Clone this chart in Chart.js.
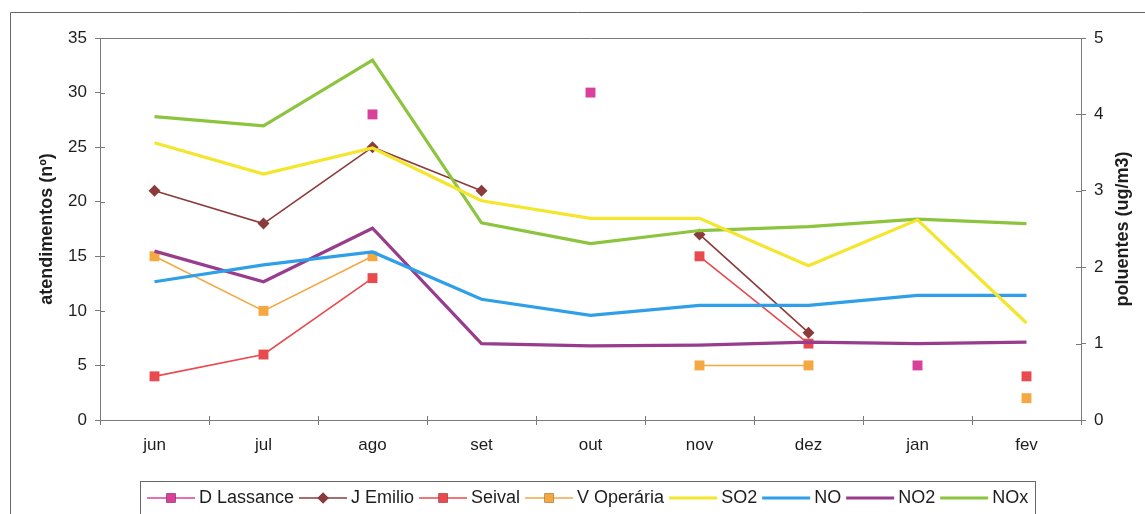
<!DOCTYPE html>
<html>
<head>
<meta charset="utf-8">
<title>atendimentos x poluentes</title>
<script src="https://cdn.jsdelivr.net/npm/chart.js@4.4.1/dist/chart.umd.min.js"></script>
<style>
  html, body { margin: 0; padding: 0; background: #fff; overflow: hidden; }
  #wrap { position: relative; width: 1145px; height: 514px; }
</style>
</head>
<body>
<div id="wrap"><canvas id="chart"></canvas></div>
<script>
// months on the x axis
const months = ['jun', 'jul', 'ago', 'set', 'out', 'nov', 'dez', 'jan', 'fev'];

// atendimentos per station (left axis), null = no record
const dLassance = [null, null, 28, null, 30, null, null, 5, null];
const jEmilio   = [21, 18, 25, 21, null, 17, 8, null, null];
const seival    = [4, 6, 13, null, null, 15, 7, null, 4];
const vOperaria = [15, 10, 15, null, null, 5, 5, null, 2];

// pollutants in ug/m3 (right axis)
const so2 = [3.63, 3.22, 3.56, 2.87, 2.64, 2.64, 2.02, 2.62, 1.27];
const no  = [1.81, 2.03, 2.20, 1.58, 1.37, 1.50, 1.50, 1.63, 1.63];
const no2 = [2.21, 1.81, 2.51, 1.00, 0.97, 0.98, 1.02, 1.00, 1.02];
const nox = [3.97, 3.85, 4.71, 2.58, 2.31, 2.48, 2.53, 2.63, 2.57];

// axis ranges
const leftMax = 35, leftStep = 5;
const rightMax = 5, rightStep = 1;

const FONT = "'Liberation Sans', Arial, Helvetica, sans-serif";
const AXIS = '#7a7a7a';
Chart.defaults.font.family = FONT;
Chart.defaults.color = '#1e1e1e';

function station(label, data, color, shape, radius) {
  return {
    label, data, yAxisID: 'y', order: 1,
    borderColor: color, backgroundColor: color, borderWidth: 1.6,
    pointStyle: shape, pointRadius: radius, pointHoverRadius: radius,
    pointBorderWidth: 0, spanGaps: false, tension: 0
  };
}
function pollutant(label, data, color) {
  return {
    label, data, yAxisID: 'y1', order: 0,
    borderColor: color, backgroundColor: color, borderWidth: 3.2,
    pointRadius: 0, pointHoverRadius: 0, tension: 0
  };
}

const datasets = [
  station('D Lassance', dLassance, '#d8409c', 'rect', 7),
  station('J Emilio', jEmilio, '#8c3b3b', 'rectRot', 6),
  station('Seival', seival, '#e84a4e', 'rect', 7),
  station('V Operária', vOperaria, '#f5a742', 'rect', 7),
  pollutant('SO2', so2, '#f3e62c'),
  pollutant('NO', no, '#2f9fe9'),
  pollutant('NO2', no2, '#983c8e'),
  pollutant('NOx', nox, '#8cc43e')
];

// outer frame, plot top edge, inner halves of the ticks, right title and legend
const decor = {
  id: 'decor',
  beforeDraw(chart) {
    const ctx = chart.ctx;
    ctx.save();
    ctx.strokeStyle = '#666';
    ctx.lineWidth = 1;
    ctx.beginPath();
    ctx.moveTo(10.5, chart.height);
    ctx.lineTo(10.5, 12.5);
    ctx.lineTo(chart.width, 12.5);
    ctx.stroke();
    ctx.restore();
  },
  afterDraw(chart) {
    const ctx = chart.ctx;
    const a = chart.chartArea;
    const sx = chart.scales.x, sy = chart.scales.y, sy1 = chart.scales.y1;
    ctx.save();
    ctx.strokeStyle = AXIS;
    ctx.lineWidth = 1;
    ctx.beginPath();
    ctx.moveTo(a.left, a.top + 0.5);
    ctx.lineTo(a.right, a.top + 0.5);
    sy.ticks.forEach((t, i) => {
      const p = Math.round(sy.getPixelForTick(i)) + 0.5;
      ctx.moveTo(a.left, p); ctx.lineTo(a.left + 5, p);
    });
    sy1.ticks.forEach((t, i) => {
      const p = Math.round(sy1.getPixelForTick(i)) + 0.5;
      ctx.moveTo(a.right, p); ctx.lineTo(a.right - 5, p);
    });
    const step = (sx.right - sx.left) / months.length;
    for (let i = 1; i < months.length; i++) {
      const p = Math.round(sx.left + i * step) + 0.5;
      ctx.moveTo(p, a.bottom); ctx.lineTo(p, a.bottom - 4);
    }
    ctx.stroke();

    // right axis title, reading upwards like the left one
    ctx.fillStyle = '#1e1e1e';
    ctx.font = 'bold 18px ' + FONT;
    ctx.textAlign = 'center';
    ctx.textBaseline = 'middle';
    ctx.translate(1123, (a.top + a.bottom) / 2);
    ctx.rotate(-Math.PI / 2);
    ctx.fillText('poluentes (ug/m3)', 0, 0);
    ctx.restore();

    // legend box
    ctx.save();
    const boxL = 140, boxR = 1035, boxT = 481;
    ctx.strokeStyle = '#666';
    ctx.lineWidth = 1;
    ctx.strokeRect(boxL + 0.5, boxT + 0.5, boxR - boxL, 60);
    ctx.font = '18px ' + FONT;
    const sample = 48, gapA = 4, gapB = 5;
    let total = 0;
    datasets.forEach(d => { total += sample + gapA + ctx.measureText(d.label).width + gapB; });
    total -= gapB;
    let x = Math.round((boxL + boxR) / 2 - total / 2);
    const yc = 498;
    datasets.forEach(d => {
      ctx.strokeStyle = d.borderColor;
      ctx.lineWidth = d.borderWidth;
      ctx.beginPath();
      ctx.moveTo(x, yc); ctx.lineTo(x + sample, yc);
      ctx.stroke();
      if (d.pointRadius > 0) {
        Chart.helpers.drawPoint(ctx, {
          pointStyle: d.pointStyle, radius: d.pointRadius - 0.5, borderWidth: 0, rotation: 0
        }, x + sample / 2, yc);
        ctx.fillStyle = d.backgroundColor;
        ctx.fill();
      }
      ctx.fillStyle = '#1e1e1e';
      ctx.textAlign = 'left';
      ctx.textBaseline = 'middle';
      ctx.fillText(d.label, x + sample + gapA, yc);
      x += sample + gapA + ctx.measureText(d.label).width + gapB;
    });
    ctx.restore();
  }
};

new Chart(document.getElementById('chart'), {
  type: 'line',
  data: { labels: months, datasets },
  options: {
    responsive: true,
    maintainAspectRatio: false,
    animation: false,
    layout: { padding: { top: 38, left: 0, right: 0, bottom: 0 } },
    plugins: { legend: { display: false }, tooltip: { enabled: false } },
    scales: {
      x: {
        type: 'category',
        offset: true,
        grid: { offset: true, drawOnChartArea: false, drawTicks: true, tickLength: 5, color: AXIS },
        border: { display: true, color: AXIS },
        ticks: { font: { size: 17 }, padding: 10, maxRotation: 0, autoSkip: false },
        afterFit(s) { s.height = 94; }
      },
      y: {
        position: 'left',
        min: 0, max: leftMax,
        grid: { drawOnChartArea: false, drawTicks: true, tickLength: 5, color: AXIS },
        border: { display: true, color: AXIS },
        ticks: { stepSize: leftStep, font: { size: 17 }, padding: 8 },
        title: {
          display: true, text: 'atendimentos (nº)',
          font: { size: 18, weight: 'bold' }, color: '#1e1e1e',
          padding: { top: 36, bottom: 0 }
        },
        afterFit(s) { s.width = 100; }
      },
      y1: {
        position: 'right',
        min: 0, max: rightMax,
        grid: { drawOnChartArea: false, drawTicks: true, tickLength: 5, color: AXIS },
        border: { display: true, color: AXIS },
        ticks: { stepSize: rightStep, font: { size: 17 }, padding: 8 },
        afterFit(s) { s.width = 64; }
      }
    }
  },
  plugins: [decor]
});
</script>
</body>
</html>
